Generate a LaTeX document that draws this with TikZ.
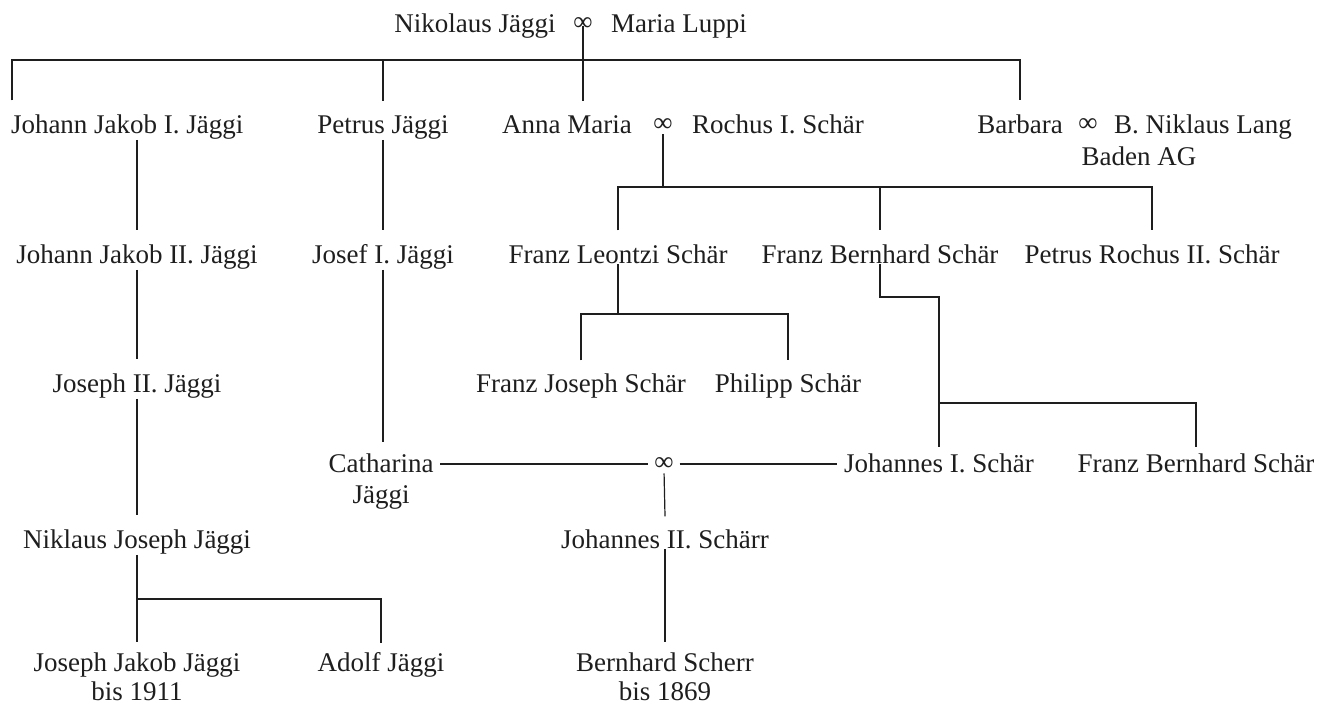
\documentclass[tikz,border=0pt]{standalone}
\usepackage{fontspec}
\setmainfont{Liberation Serif}
\usetikzlibrary{calc}
\newcommand\nmfont{\fontsize{27}{29}\selectfont}
\newcommand\wedsym{{\fontsize{27}{27}\selectfont ∞}}
\newcommand\twoline[3][0pt]{\begin{tabular}[t]{@{}c@{}}#2\\[#1]#3\end{tabular}}
\definecolor{ink}{HTML}{1E1E1E}
\tikzset{
  person/.style={font=\nmfont, text=ink, inner sep=0pt, outer sep=1pt, anchor=base},
  wed/.style={text=ink, inner sep=0pt, outer sep=0pt, anchor=center},
  ln/.style={draw=ink, line width=1.2pt},
}
\begin{document}
\begin{tikzpicture}[x=1pt,y=-1pt]
\useasboundingbox (0,0) rectangle (1321,707);
% title
\node[person] (nik) at (475,32) {Nikolaus Jäggi};
\node[person] (luppi) at (679,32) {Maria Luppi};
\node[wed] (m0) at (583,24) {\wedsym};
% row 1
\node[person, anchor=base west] (jj1) at (10,133) {Johann Jakob I. Jäggi};
\node[person] (pet) at (383,133) {Petrus Jäggi};
\node[person] (anna) at (567,133) {Anna Maria};
\node[wed] (m1) at (663,125) {\wedsym};
\node[person] (roch) at (778,133) {Rochus I. Schär};
\node[person] (barb) at (1020,133) {Barbara};
\node[wed] (m2) at (1088,125) {\wedsym};
\node[person] (bnl) at (1203,133) {B. Niklaus Lang};
\node[person] (baden) at (1139,165) {Baden AG};
% row 2
\node[person] (jj2) at (137,263) {Johann Jakob II. Jäggi};
\node[person] (jos1) at (383,263) {Josef I. Jäggi};
\node[person] (fleo) at (618,263) {Franz Leontzi Schär};
\node[person] (fber) at (880,263) {Franz Bernhard Schär};
\node[person] (proch) at (1152,263) {Petrus Rochus II. Schär};
% row 3
\node[person] (jos2) at (137,392) {Joseph II. Jäggi};
\node[person] (fjos) at (581,392) {Franz Joseph Schär};
\node[person] (phil) at (788,392) {Philipp Schär};
% row 4
\node[person] (cath) at (381,472) {\twoline[2pt]{Catharina}{Jäggi}};
\node[wed] (m3) at (664,464) {\wedsym};
\node[person] (joh1) at (939,472) {Johannes I. Schär};
\node[person] (fber2) at (1196,472) {Franz Bernhard Schär};
% row 5
\node[person] (nik2) at (137,548) {Niklaus Joseph Jäggi};
\node[person] (joh2) at (665,548) {Johannes II. Schärr};
% row 6
\node[person] (jjj) at (137,671) {\twoline{Joseph Jakob Jäggi}{bis 1911}};
\node[person] (adolf) at (381,671) {Adolf Jäggi};
\node[person] (bsch) at (665,671) {\twoline{Bernhard Scherr}{bis 1869}};
% bus levels
\coordinate (b0) at (0,60);
\coordinate (b1) at (0,187);
\coordinate (b2) at (0,314);
\coordinate (b3) at (0,297);
\coordinate (b4) at (0,403);
\coordinate (b5) at (0,599);
% connectors
\draw[ln, shorten <=2pt] (m0.center) -- ($(anna.north -| m0)+(0,-13)$);
\draw[ln] ($(jj1.north west)+(2,-13)$) |- (b0 -| barb) -- ($(barb.north)+(0,-13)$);
\draw[ln] (b0 -| pet) -- ($(pet.north)+(0,-13)$);
\draw[ln] (jj1.south -| jj2) -- ($(jj2.north)+(0,-13)$);
\draw[ln] (pet.south) -- ($(jos1.north)+(0,-13)$);
\draw[ln] (roch.south -| m1) -- (b1 -| m1);
\draw[ln] ($(fleo.north)+(0,-13)$) |- (b1 -| proch) -- ($(proch.north)+(0,-13)$);
\draw[ln] (b1 -| fber) -- ($(fber.north)+(0,-13)$);
\draw[ln] (jj2.south) -- ($(jos2.north)+(0,-13)$);
\draw[ln] (jos1.south) -- ($(cath.north -| jos1)+(0,-9)$);
\draw[ln] (fleo.south) -- (b2 -| fleo);
\draw[ln] ($(fjos.north)+(0,-12)$) |- (b2 -| phil) -- ($(phil.north)+(0,-12)$);
\draw[ln] (fber.south) |- (b3 -| joh1) -- ($(joh1.north)+(0,-5)$);
\draw[ln] (b4 -| joh1) -| ($(fber2.north)+(0,-5)$);
\draw[ln] (jos2.south) -- ($(nik2.north)+(0,-13)$);
\draw[ln, shorten <=6pt, shorten >=6pt] (cath.east |- m3) -- (m3.west);
\draw[ln, shorten <=6pt, shorten >=6pt] (m3.east) -- (joh1.west |- m3);
\draw[ln, shorten <=3pt] (m3.south) -- ($(joh2.north)+(0,-12)$);
\draw[ln] (nik2.south) -- (b5 -| nik2);
\draw[ln] ($(jjj.north)+(0,-8)$) |- (b5 -| adolf) -- ($(adolf.north)+(0,-8)$);
\draw[ln] (joh2.south) -- ($(bsch.north)+(0,-8)$);
\end{tikzpicture}
\end{document}
